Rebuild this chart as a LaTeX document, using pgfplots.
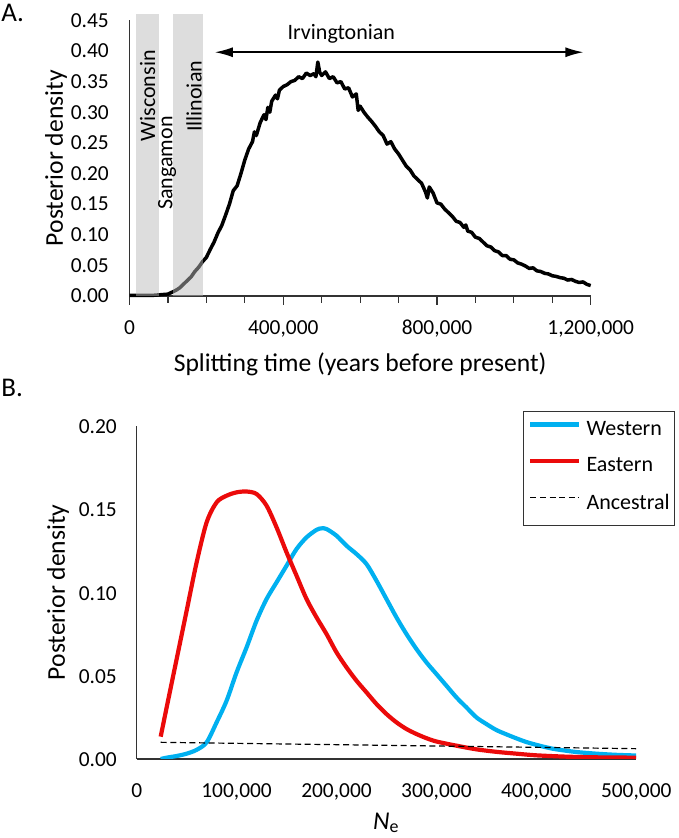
\documentclass[border=0pt]{standalone}
\usepackage{pgfplots}
\pgfplotsset{compat=1.18}
\usepackage{fontspec}
\setmainfont{Carlito}
\usetikzlibrary{arrows.meta}

\definecolor{westblue}{RGB}{0,176,240}
\definecolor{eastred}{RGB}{235,10,10}

\newcommand\tickfont{\fontsize{10.7pt}{12pt}\selectfont}
\newcommand\labfont{\fontsize{12.8pt}{15pt}\selectfont}
\newcommand\annfont{\fontsize{11pt}{13pt}\selectfont}
\newcommand\panfont{\fontsize{13.5pt}{15pt}\selectfont}

\pgfplotsset{
  myaxis/.style={
    scale only axis,
    anchor=south west,
    axis lines*=left,
    axis line style={-, black!80, line width=0.6pt},
    tick style={black!80, line width=0.6pt},
    tick label style={font=\tickfont},
    /pgf/number format/assume math mode=true,
    scaled x ticks=false, scaled y ticks=false,
    xticklabel style={/pgf/number format/fixed, /pgf/number format/1000 sep={,},
      anchor=base, inner sep=0pt},
    yticklabel style={/pgf/number format/fixed, /pgf/number format/fixed zerofill,
      /pgf/number format/precision=2, anchor=base east, inner sep=0pt, yshift=-3.9pt},
    label style={font=\labfont},
  }
}

\begin{document}
\begin{tikzpicture}
\useasboundingbox (0,0) rectangle (339pt,419pt);

% ---- panel A ----
\begin{axis}[myaxis,
  at={(64.75pt,271pt)}, width=230.6pt, height=137.8pt,
  xmin=0, xmax=1200000, ymin=0, ymax=0.45,
  clip=false,
  xtick={0,400000,800000,1200000},
  minor xtick={100000,200000,300000,500000,600000,700000,900000,1000000,1100000},
  major tick length=-4.5pt, minor tick length=-3.5pt,
  ymajorticks=false,
  xticklabel style={yshift=-19.1pt},
  xlabel={Splitting time (years before present)},
  ylabel={Posterior density},
  xlabel style={at={(axis description cs:0.5,-0.2493)}, anchor=center},
  ylabel style={at={(axis description cs:-0.1593,0.5)}, anchor=center},
]
\addplot[black, line width=1.75pt, line join=round] coordinates {
(0,0.001) (20000,0.001) (40000,0.001) (60000,0.001) (80000,0.002) (100000,0.003)
(110000,0.006) (120000,0.009) (130000,0.013) (140000,0.019) (150000,0.025)
(160000,0.031) (170000,0.040) (180000,0.047) (190000,0.056) (200000,0.063)
(210000,0.076) (220000,0.088) (230000,0.103) (240000,0.115) (250000,0.132)
(260000,0.150) (270000,0.172) (280000,0.180) (290000,0.200) (300000,0.222)
(310000,0.240) (320000,0.252) (325000,0.268) (330000,0.262) (340000,0.283)
(350000,0.296) (355000,0.288) (360000,0.308) (365000,0.300) (370000,0.318)
(380000,0.328) (385000,0.322) (390000,0.336) (400000,0.342) (410000,0.345)
(420000,0.350) (430000,0.352) (440000,0.358) (450000,0.355) (460000,0.364)
(470000,0.360) (480000,0.363) (485000,0.358) (490000,0.382) (495000,0.365)
(500000,0.360) (510000,0.366) (520000,0.355) (530000,0.358) (540000,0.348)
(550000,0.350) (560000,0.338) (570000,0.340) (580000,0.325) (590000,0.330)
(595000,0.303) (600000,0.310) (610000,0.300) (620000,0.292) (630000,0.285)
(640000,0.277) (650000,0.268) (660000,0.262) (670000,0.248) (680000,0.252)
(690000,0.240) (700000,0.232) (710000,0.222) (720000,0.212) (730000,0.206)
(740000,0.196) (750000,0.190) (760000,0.184) (770000,0.170) (775000,0.160)
(780000,0.178) (790000,0.168) (800000,0.152) (810000,0.150) (820000,0.142)
(830000,0.136) (840000,0.130) (850000,0.122) (860000,0.120) (870000,0.112)
(875000,0.116) (880000,0.106) (890000,0.104) (900000,0.096) (910000,0.094)
(920000,0.088) (930000,0.082) (940000,0.080) (950000,0.074) (960000,0.072)
(970000,0.066) (980000,0.066) (990000,0.060) (1000000,0.059) (1010000,0.054)
(1020000,0.052) (1030000,0.049) (1040000,0.045) (1050000,0.046) (1060000,0.041)
(1070000,0.040) (1080000,0.037) (1090000,0.036) (1100000,0.033) (1110000,0.032)
(1120000,0.030) (1130000,0.029) (1140000,0.026) (1150000,0.027) (1160000,0.024)
(1170000,0.022) (1180000,0.023) (1190000,0.019) (1200000,0.017)
};
% y tick labels, set 10pt left of the axis (no tick marks on this axis)
\pgfplotsinvokeforeach{0.00,0.05,0.10,0.15,0.20,0.25,0.30,0.35,0.40,0.45}{
  \node[anchor=east, inner sep=0pt, font=\tickfont] at (axis cs:-52800,#1) {#1};
}
% glacial stages
\fill[black!27, fill opacity=0.49] (axis cs:17000,0) rectangle (axis cs:77000,0.46);
\fill[black!27, fill opacity=0.49] (axis cs:113000,0) rectangle (axis cs:190500,0.46);
\node[rotate=90, font=\annfont, inner sep=0pt] at (axis cs:47400,0.327) {Wisconsin};
\node[rotate=90, font=\annfont, inner sep=0pt] at (axis cs:97600,0.217) {Sangamon};
\node[rotate=90, font=\annfont, inner sep=0pt] at (axis cs:168000,0.326) {Illinoian};
\draw[{Latex[length=9pt,width=5pt]}-{Latex[length=9pt,width=5pt]}, line width=0.8pt]
  (axis cs:222000,0.398) -- (axis cs:1181000,0.398);
\node[anchor=base, font=\annfont, inner sep=0pt] at (axis cs:551000,0.4195) {Irvingtonian};
\end{axis}

% ---- panel B ----
\begin{axis}[myaxis,
  at={(68.35pt,39.5pt)}, width=249.75pt, height=166.65pt,
  xmin=0, xmax=500000, ymin=0, ymax=0.2,
  xtick={0,100000,...,500000},
  ytick={0,0.05,...,0.2},
  major tick length=0pt,
  xticklabel style={yshift=-19.5pt},
  yticklabel={\pgfmathprintnumber{\tick}\kern9.75pt},
  xlabel={\textit{N}\textsubscript{e}},
  ylabel={Posterior density},
  xlabel style={at={(axis description cs:0.5,-0.192)}, anchor=center},
  ylabel style={at={(axis description cs:-0.1576,0.5)}, anchor=center},
  legend cell align=left,
  legend image code/.code={\draw[#1] (0pt,3.6pt) -- (24.5pt,3.6pt);},
  legend style={at={(0.7728,1.044)}, anchor=north west, draw=black!80,
    line width=0.6pt, font=\annfont, inner xsep=2.5pt, inner ysep=5pt,
    row sep=8pt, column sep=2.5pt, nodes={inner sep=0pt, text depth=3pt}},
]
\addplot[westblue, line width=2.1pt, smooth] coordinates {
(24000,0.000) (30000,0.0008) (40000,0.0018) (50000,0.0032) (60000,0.0055)
(70000,0.0100) (80000,0.022) (90000,0.035) (100000,0.052) (110000,0.067)
(120000,0.083) (130000,0.096) (140000,0.106) (150000,0.116) (160000,0.126)
(170000,0.133) (180000,0.1375) (185000,0.1384) (190000,0.138) (200000,0.134)
(210000,0.128) (220000,0.123) (230000,0.117) (240000,0.107) (250000,0.096)
(260000,0.085) (270000,0.075) (280000,0.066) (290000,0.058) (300000,0.051)
(310000,0.044) (320000,0.037) (330000,0.031) (340000,0.025) (350000,0.021)
(360000,0.0174) (370000,0.0148) (380000,0.0124) (390000,0.0102) (400000,0.0085)
(410000,0.0070) (420000,0.0058) (440000,0.0042) (460000,0.0032) (480000,0.0025)
(500000,0.0021)
};
\addlegendentry{Western}
\addplot[eastred, line width=2.1pt, smooth] coordinates {
(24000,0.0134) (30000,0.031) (40000,0.060) (50000,0.089) (60000,0.118)
(70000,0.142) (80000,0.154) (90000,0.158) (100000,0.160) (110000,0.1605)
(120000,0.159) (130000,0.152) (140000,0.139) (150000,0.124) (160000,0.110)
(170000,0.096) (180000,0.085) (190000,0.075) (200000,0.064) (210000,0.055)
(220000,0.047) (230000,0.040) (240000,0.033) (250000,0.027) (260000,0.022)
(270000,0.018) (280000,0.015) (290000,0.0125) (300000,0.0105) (320000,0.0080)
(340000,0.0058) (360000,0.0043) (380000,0.0032) (400000,0.0022) (430000,0.0014)
(460000,0.0010) (500000,0.0008)
};
\addlegendentry{Eastern}
\addplot[black, line width=0.6pt, dash pattern=on 3pt off 1.8pt] coordinates {
(24000,0.0100) (100000,0.0094) (200000,0.0086) (300000,0.0078) (400000,0.0070) (500000,0.0062)
};
\addlegendentry{Ancestral}
\end{axis}

\node[anchor=base west, inner sep=0pt, font=\panfont] at (0.5pt,408.15pt) {A.};
\node[anchor=base west, inner sep=0pt, font=\panfont] at (0.5pt,220.5pt) {B.};
\end{tikzpicture}
\end{document}
